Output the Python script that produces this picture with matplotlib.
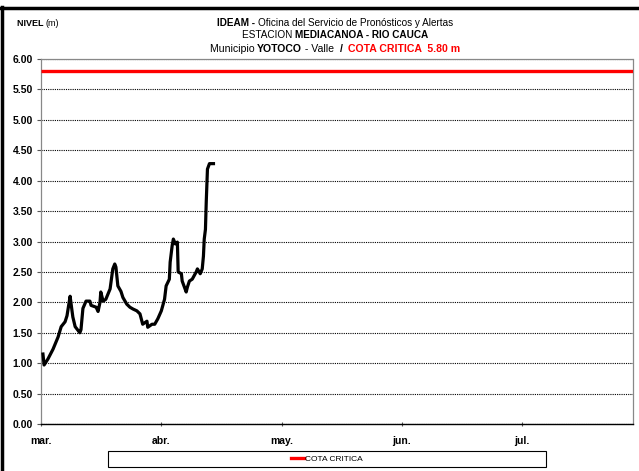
import matplotlib
matplotlib.use("Agg")
import matplotlib.pyplot as plt
from matplotlib.lines import Line2D
from matplotlib import font_manager

# ---- data ----
days = [0.5, 0.8, 1.8, 3.1, 4.4, 5.2, 6.2, 6.7, 7.5, 7.7, 8.2, 8.8, 10.0, 10.3,
        10.8, 11.6, 12.6, 12.9, 14.2, 14.7, 15.2, 15.4, 16.0, 16.7, 17.8, 18.5,
        19.0, 19.3, 19.8, 20.6, 21.1, 22.1, 22.9, 23.7, 24.7, 25.5, 26.2, 27.3,
        27.5, 28.6, 29.3, 30.1, 31.0, 31.8, 32.2, 33.0, 33.2, 33.7, 34.0, 34.5,
        35.0, 35.2, 36.0, 36.2, 37.2, 37.5, 38.0, 38.7, 39.7, 40.0, 40.7, 41.2,
        41.5, 41.7, 42.0, 42.2, 42.5, 43.0, 44.0]
nivel = [1.15, 0.97, 1.07, 1.23, 1.43, 1.60, 1.68, 1.78, 2.10, 2.00, 1.76, 1.60,
         1.50, 1.55, 1.90, 2.02, 2.02, 1.95, 1.92, 1.85, 2.00, 2.17, 2.02, 2.05,
         2.22, 2.55, 2.63, 2.58, 2.27, 2.18, 2.08, 1.97, 1.92, 1.89, 1.86, 1.81,
         1.64, 1.69, 1.59, 1.64, 1.64, 1.73, 1.86, 2.05, 2.27, 2.38, 2.66, 2.93,
         3.04, 2.96, 2.99, 2.50, 2.47, 2.35, 2.17, 2.25, 2.35, 2.38, 2.50, 2.55,
         2.47, 2.55, 2.76, 3.04, 3.20, 3.65, 4.19, 4.28, 4.28]
cota_critica = 5.80
month_names = ["mar.", "abr.", "may.", "jun.", "jul."]
month_days = [31, 30, 31, 30, 31]
y_ticks = [0.0, 0.5, 1.0, 1.5, 2.0, 2.5, 3.0, 3.5, 4.0, 4.5, 5.0, 5.5, 6.0]


def to_month_pos(d):
    pos = 0.0
    for md in month_days:
        if d < md:
            return pos + d / md
        d -= md
        pos += 1.0
    return pos


avail = {f.name for f in font_manager.fontManager.ttflist}
fam = "Liberation Sans Narrow" if "Liberation Sans Narrow" in avail else "Liberation Sans"
plt.rcParams["font.family"] = [fam, "DejaVu Sans"]

W, H = 639, 471
fig = plt.figure(figsize=(W / 100, H / 100), dpi=100)
ax = fig.add_axes([41 / W, 1 - 424 / H, (633 - 41) / W, (424 - 59) / H])

xs = [to_month_pos(d) for d in days]
ax.plot(xs, nivel, color="black", lw=2.3, solid_joinstyle="round", zorder=3)
xmax = 4.92
ax.plot([0, xmax], [cota_critica, cota_critica], color="#ff0000", lw=2.4, zorder=4,
        solid_capstyle="butt")

ax.set_xlim(0, xmax)
ax.set_ylim(0, 6.0)
ax.set_yticks(y_ticks)
ax.set_yticklabels([f"{v:.2f}" for v in y_ticks], fontsize=7.5, fontweight="bold")
ax.set_xticks(range(len(month_names)))
ax.set_xticklabels(month_names, fontsize=7.5, fontweight="bold")
ax.tick_params(axis="y", length=3, width=0.8, color="#555555", pad=3)
ax.tick_params(axis="x", length=3, width=0.8, color="#555555", pad=7, direction="inout")
ax.yaxis.grid(True, color="black", linestyle=(0, (1, 1)), linewidth=0.8)
ax.set_axisbelow(True)
for s in ["left", "right", "top"]:
    ax.spines[s].set_color("#888888")
    ax.spines[s].set_linewidth(0.9)
ax.spines["top"].set_linestyle((0, (1, 1)))
ax.spines["bottom"].set_color("black")
ax.spines["bottom"].set_linewidth(1.0)

# titles with mixed weights
renderer = fig.canvas.get_renderer()


def mixed_line(segments, xc, y, size=7.2):
    texts = []
    widths = []
    for s, w, c in segments:
        t = fig.text(0, y, s, fontsize=size, fontweight=w, color=c, va="baseline", ha="left")
        bb = t.get_window_extent(renderer=renderer)
        texts.append(t)
        widths.append(bb.width)
    total = sum(widths)
    x = xc * W - total / 2
    for t, wd in zip(texts, widths):
        t.set_x(x / W)
        x += wd


xc = 335 / W
mixed_line([("IDEAM - ", "bold", "black"),
            ("Oficina del Servicio de Pronósticos y Alertas", "normal", "black")],
           xc, 1 - 25.5 / H)
mixed_line([("ESTACION ", "normal", "black"),
            ("MEDIACANOA - RIO CAUCA", "bold", "black")],
           xc, 1 - 38 / H)
mixed_line([("Municipio ", "normal", "black"), ("YOTOCO", "bold", "black"),
            (" - Valle  ", "normal", "black"), ("/  ", "bold", "black"),
            ("COTA CRITICA  5.80 m", "bold", "#ff0000")],
           xc, 1 - 51.5 / H, size=7.6)
mixed_line([("NIVEL ", "bold", "black"), ("(m)", "normal", "black")],
           38 / W, 1 - 25.5 / H, size=6.5)

# legend (frame drawn as a rectangle of the reference box size)
handle = Line2D([], [], color="#ff0000", lw=2.4)
leg = fig.legend([handle], ["COTA CRITICA"], loc="center",
                 bbox_to_anchor=(108 / W, 1 - 467 / H, (546 - 108) / W, 16 / H),
                 fontsize=6, frameon=False, handlelength=1.6,
                 handletextpad=0.1, borderpad=0.2)
fig.add_artist(plt.Rectangle((108 / W, 1 - 467 / H), (546 - 108) / W, 16 / H,
                             transform=fig.transFigure, fill=False,
                             edgecolor="black", lw=0.8))

# outer border (top and left)
fig.add_artist(Line2D([0, 1], [1 - 8 / H, 1 - 8 / H], transform=fig.transFigure,
                      color="black", lw=2.5))
fig.add_artist(Line2D([2 / W, 2 / W], [0, 1 - 7 / H], transform=fig.transFigure,
                      color="black", lw=2.5))

fig.savefig("out.png", dpi=100)
